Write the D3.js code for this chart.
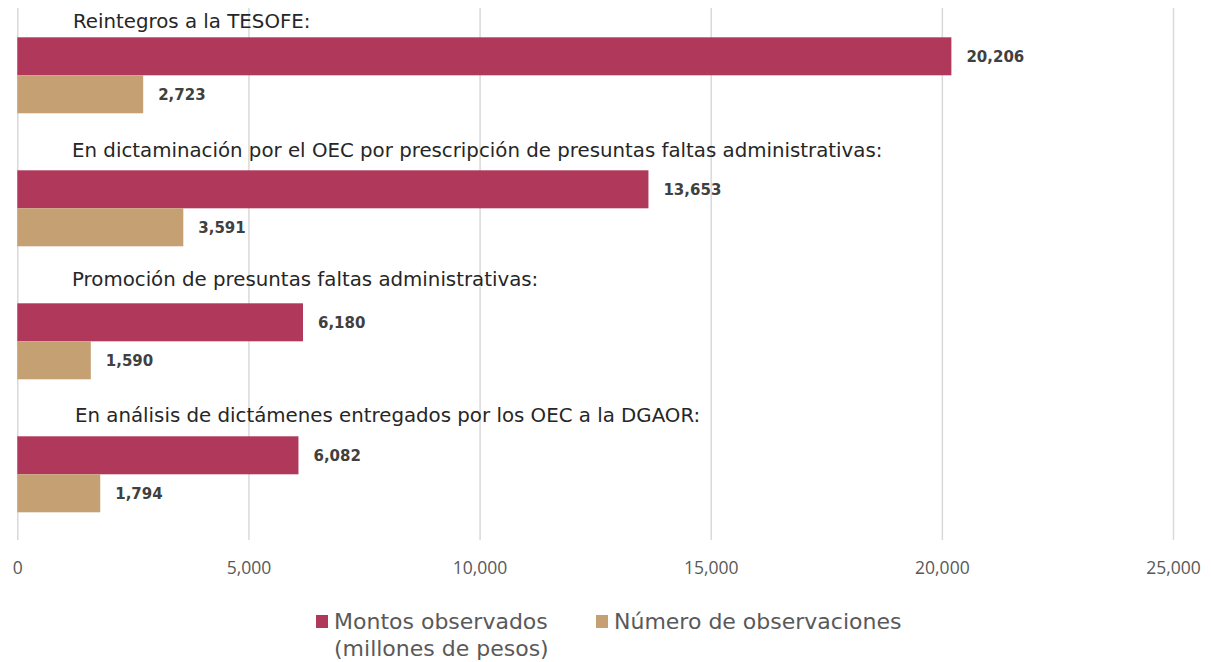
<!DOCTYPE html>
<html>
<head>
<meta charset="utf-8">
<script src="https://cdn.jsdelivr.net/npm/d3@7"></script>
<style>
  body { margin: 0; background: #fff; }
  svg { display: block; }
</style>
</head>
<body>
<div id="chart"></div>
<script>
// data
var categories = [
  "Reintegros a la TESOFE:",
  "En dictaminación por el OEC por prescripción de presuntas faltas administrativas:",
  "Promoción de presuntas faltas administrativas:",
  "En análisis de dictámenes entregados por los OEC a la DGAOR:"
];
var montos = [20206, 13653, 6180, 6082];
var observaciones = [2723, 3591, 1590, 1794];
var tickValues = [0, 5000, 10000, 15000, 20000, 25000];
var seriesNames = ["Montos observados\n(millones de pesos)", "Número de observaciones"];

var W = 1211, H = 662;
var colors = ["#B0385A", "#C4A073"];
// the category captions sit as loose text boxes above each pair of bars
var labelGap = [9, 13.5, 17.5, 14.5];
var labelX = [73, 72, 72, 75];
var font = "'DejaVu Sans', sans-serif";

var svg = d3.select("#chart").append("svg")
    .attr("width", W)
    .attr("height", H);

var x = d3.scaleLinear().domain([0, 25000]).range([17.3, 1173]);
var y0 = d3.scaleBand().domain(categories).range([8, 540]);
var y1 = d3.scaleBand().domain([0, 1]).range([29.3, 105.3]);

// gridlines + tick labels
var axis = svg.append("g")
    .attr("transform", "translate(0,540)")
    .call(d3.axisBottom(x)
      .tickValues(tickValues)
      .tickSizeInner(-532)
      .tickSizeOuter(0)
      .tickPadding(22)
      .tickFormat(d3.format(",")));
axis.select(".domain").remove();
axis.selectAll(".tick line")
    .attr("stroke", "#d9d9d9")
    .attr("stroke-width", 1.5);
axis.selectAll(".tick text")
    .attr("fill", "#595959")
    .style("font-family", "'Open Sans', sans-serif")
    .style("font-size", "17.5px");

var rows = categories.map(function(c, i){
  return {cat: c, i: i, values: [montos[i], observaciones[i]]};
});

var grp = svg.selectAll(".grp")
    .data(rows)
    .enter().append("g")
    .attr("class", "grp")
    .attr("transform", function(d){ return "translate(0," + y0(d.cat) + ")"; });

grp.append("text")
    .attr("x", function(d){ return labelX[d.i]; })
    .attr("y", function(d){ return y1(0) - labelGap[d.i]; })
    .attr("fill", "#262626")
    .style("font-family", font)
    .style("font-size", "19.8px")
    .text(function(d){ return d.cat; });

var bars = grp.selectAll(".bar")
    .data(function(d){ return d.values.map(function(v, k){ return {v: v, k: k}; }); })
    .enter();

bars.append("rect")
    .attr("x", x(0))
    .attr("y", function(d){ return y1(d.k); })
    .attr("width", function(d){ return x(d.v) - x(0); })
    .attr("height", y1.bandwidth())
    .attr("fill", function(d){ return colors[d.k]; });

bars.append("text")
    .attr("x", function(d){ return x(d.v) + 15; })
    .attr("y", function(d){ return y1(d.k) + y1.bandwidth() / 2; })
    .attr("dy", "0.36em")
    .attr("fill", "#404040")
    .style("font-family", font)
    .style("font-weight", "bold")
    .style("font-size", "15px")
    .text(function(d){ return d3.format(",")(d.v); });

// legend
var legendX = [316, 596];
var leg = svg.selectAll(".leg")
    .data(seriesNames)
    .enter().append("g")
    .attr("class", "leg")
    .attr("transform", function(d, i){ return "translate(" + legendX[i] + ",615)"; });

leg.append("rect")
    .attr("width", 12)
    .attr("height", 13)
    .attr("fill", function(d, i){ return colors[i]; });

leg.append("text")
    .attr("x", 18)
    .attr("y", 14)
    .attr("fill", "#595959")
    .style("font-family", font)
    .style("font-size", "22px")
    .selectAll("tspan")
    .data(function(d){ return d.split("\n"); })
    .enter().append("tspan")
    .attr("x", 18)
    .attr("dy", function(d, i){ return i ? 27 : 0; })
    .text(function(d){ return d; });
</script>
</body>
</html>
